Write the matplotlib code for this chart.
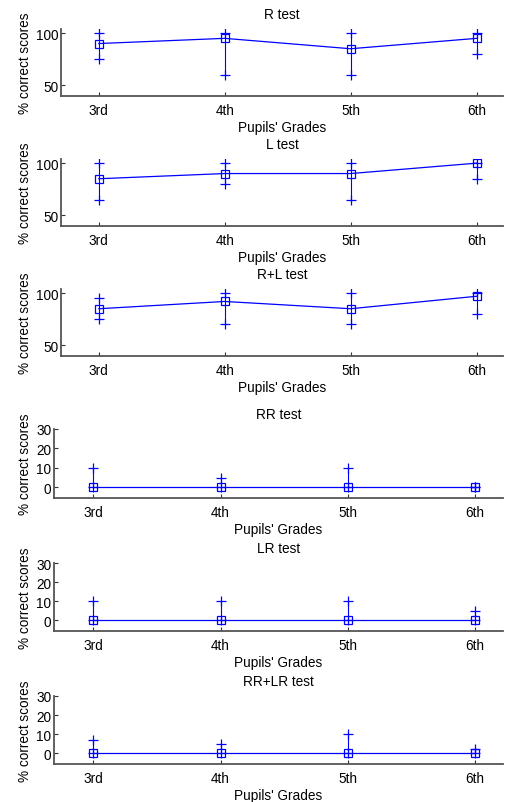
import numpy as np
import matplotlib.pyplot as plt

plt.rcParams['font.family'] = ['Liberation Sans', 'DejaVu Sans']
plt.rcParams['font.size'] = 9.8

# data: median, lower and upper whisker per grade
grades = ['3rd', '4th', '5th', '6th']
grade_num = [3, 4, 5, 6]
titles = ['R test', 'L test', 'R+L test', 'RR test', 'LR test', 'RR+LR test']

med_R = [90, 95, 85, 95]
lo_R = [75, 60, 60, 80]
hi_R = [100, 100, 100, 100]

med_L = [85, 90, 90, 100]
lo_L = [65, 80, 65, 85]
hi_L = [100, 100, 100, 100]

med_RL = [85, 92, 85, 97]
lo_RL = [75, 70, 70, 80]
hi_RL = [95, 100, 100, 100]

med_RR = [0, 0, 0, 0]
lo_RR = [0, 0, 0, 0]
hi_RR = [10, 5, 10, 0]

med_LR = [0, 0, 0, 0]
lo_LR = [0, 0, 0, 0]
hi_LR = [10, 10, 10, 5]

med_RRLR = [0, 0, 0, 0]
lo_RRLR = [0, 0, 0, 0]
hi_RRLR = [7, 5, 10, 2.5]

series = [(med_R, lo_R, hi_R), (med_L, lo_L, hi_L), (med_RL, lo_RL, hi_RL),
          (med_RR, lo_RR, hi_RR), (med_LR, lo_LR, hi_LR), (med_RRLR, lo_RRLR, hi_RRLR)]

W, H = 508, 803
# axes boxes in pixels: left, top, right, bottom
boxes = [(61, 30, 503, 97), (61, 160, 503, 227), (61, 290, 503, 357),
         (54, 430, 503, 499), (54, 564, 503, 632), (54, 697, 503, 765)]

fig = plt.figure(figsize=(W / 100, H / 100), dpi=100)
blue = '#0000ff'
spine_col = '#555555'

for i in range(6):
    l, t, r, b = boxes[i]
    ax = fig.add_axes([l / W, 1 - b / H, (r - l) / W, (b - t) / H])
    med, lo, hi = series[i]
    for xx, a, c in zip(grade_num, lo, hi):
        ax.plot([xx, xx], [a, c], color=blue, lw=0.8)
    ax.plot(grade_num, lo, '+', color=blue, ms=7.5, mew=0.9)
    ax.plot(grade_num, hi, '+', color=blue, ms=7.5, mew=0.9)
    ax.plot(grade_num, med, '-s', color=blue, lw=0.9, ms=6, mfc='none', mew=0.9)

    ax.set_xticks(grade_num)
    ax.set_xticklabels(grades)
    if i < 3:
        ax.set_xlim(2.7, 6.21)
        ax.set_ylim(39.5, 104)
        ax.set_yticks([50, 100])
    else:
        ax.set_xlim(2.69, 6.22)
        ax.set_ylim(-5.5, 30)
        ax.set_yticks([0, 10, 20, 30])
    ax.set_title(titles[i], fontsize=9.8, pad=8)
    ax.set_xlabel("Pupils' Grades", labelpad=2)
    ax.set_ylabel('% correct scores', labelpad=3)
    for s in ['top', 'right']:
        ax.spines[s].set_visible(False)
    for s in ['left', 'bottom']:
        ax.spines[s].set_color(spine_col)
        ax.spines[s].set_linewidth(1.3)
    ax.tick_params(direction='in', length=3, color='#333333')
    ax.tick_params(axis='x', pad=5)
    ax.tick_params(axis='y', pad=2)

fig.savefig('out.png', dpi=100)
